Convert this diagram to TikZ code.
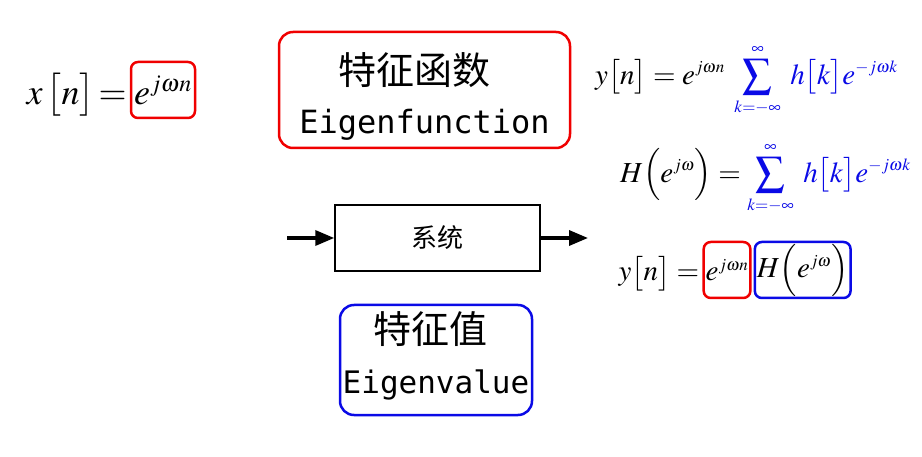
\documentclass[tikz,border=0pt]{standalone}
\usepackage{mathptmx}
\usepackage{fontspec}
\newfontfamily\cjk{Noto Sans CJK SC}
\setmonofont{DejaVu Sans Mono}
\usepackage{tikz}
\usetikzlibrary{positioning, arrows.meta}
\definecolor{eigred}{HTML}{F00000}
\definecolor{eigblue}{HTML}{0A0AE6}
\DeclareMathSizes{36}{36}{24}{17}
\DeclareMathSizes{29}{29}{17}{13}

\tikzset{
  conceptbox/.style={draw, line width=2.5pt, rounded corners=14pt, align=center, inner sep=0pt},
  sysbox/.style={draw, line width=1.5pt, minimum width=205pt, minimum height=66pt,
    font=\cjk\fontsize{26}{30}\selectfont},
  flow/.style={line width=3.5pt, -{Triangle[length=19pt,width=15pt]}},
  markbox/.style={draw, line width=2.5pt, rounded corners=7pt, inner xsep=2pt, inner ysep=0pt, minimum height=56pt},
  mathbig/.style={font=\fontsize{36}{42}\selectfont},
  matheq/.style={font=\fontsize{29}{35}\selectfont},
}
\newcommand{\limsum}{\mathop{\sum_{\scriptstyle k=-\infty}^{\scriptstyle\infty}}}

\begin{document}
\begin{tikzpicture}[x=1pt, y=-1pt]
    \useasboundingbox (0,0) rectangle (922,457);

    % input signal
    \node[markbox, mathbig, draw=eigred, minimum width=64pt] (eA) at (163,90) {$e^{j\omega n}$};
    \node[mathbig, inner sep=0pt, anchor=base east] (xA) at ([xshift=-3pt]eA.base west) {$x\,\bigl[n\bigr]\,{=}$};

    % eigenfunction / eigenvalue
    \node[conceptbox, draw=eigred, minimum width=291pt, minimum height=116pt] (efun) at (424.5,90)
      {{\cjk\fontsize{38}{40}\selectfont\rule{0pt}{45pt}特征函数\kern20pt}\\[20pt]{\ttfamily\fontsize{32}{36}\selectfont Eigenfunction}};
    \node[conceptbox, draw=eigblue, minimum width=192pt, minimum height=110pt] (evalue) at (436,360)
      {{\cjk\fontsize{38}{40}\selectfont 特征值\kern12pt}\\[22pt]{\ttfamily\fontsize{31}{36}\selectfont\rule[-15pt]{0pt}{10pt}Eigenvalue}};

    % system
    \node[sysbox] (sys) at (437.5,238) {系统};
    \coordinate (in) at (287,238);
    \coordinate (out) at (588,238);
    \draw[flow] (in) -- (sys.west);
    \draw[flow] (sys.east) -- (out);

    % output relations
    \node[matheq, inner sep=0pt, anchor=west] (yA) at (595,80)
      {$\displaystyle y\bigl[n\bigr]=e^{j\omega n}\;\color{eigblue}\limsum\; h\bigl[k\bigr]e^{-j\omega k}$};
    \node[matheq, inner sep=0pt, anchor=west] (hA) at (620,178)
      {$\displaystyle H\Bigl(e^{j\omega}\Bigr)=\color{eigblue}\limsum\; h\bigl[k\bigr]e^{-j\omega k}$};

    \node[markbox, matheq, draw=eigred] (eB) at (727,270) {$e^{j\omega n}$};
    \node[markbox, matheq, draw=eigblue, right=2pt of eB] (hB) {$H\Bigl(e^{j\omega}\Bigr)$};
    \node[matheq, inner sep=0pt, anchor=base east] (yB) at ([xshift=-3pt]eB.base west) {$y\bigl[n\bigr]=$};
\end{tikzpicture}
\end{document}
